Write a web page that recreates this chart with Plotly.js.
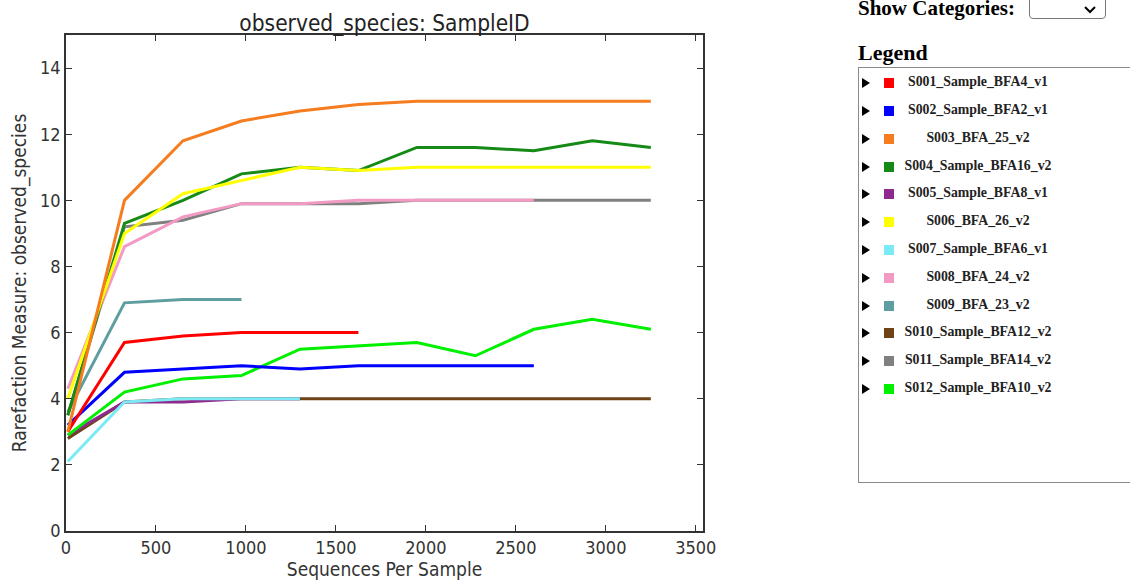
<!DOCTYPE html>
<html>
<head>
<meta charset="utf-8">
<script src="https://cdn.plot.ly/plotly-3.0.1.min.js"></script>
<style>
  html, body { margin: 0; padding: 0; background: #fff; width: 1130px; height: 581px; overflow: hidden; }
  #plot { position: absolute; left: 0; top: 0; width: 720px; height: 581px; }
  .hdr { position: absolute; font-family: "Liberation Serif", "Times New Roman", serif; font-weight: bold; color: #000; white-space: nowrap; }
  #showcat { left: 858px; top: 0px; font-size: 21px; line-height: 16px; }
  #sel { position: absolute; left: 1029px; top: -5px; width: 77px; height: 24px; border: 1px solid #767676; border-radius: 4px; background: #fff; box-sizing: border-box; }
  #sel svg { position: absolute; right: 9px; top: 10px; }
  #leghdr { left: 858px; top: 40px; font-size: 22px; }
  #legbox { position: absolute; left: 858px; top: 67px; width: 290px; height: 416px; border: 1px solid #8a8a8a; box-sizing: border-box; }
  .row { position: absolute; left: 0; height: 14px; }
  .tri { position: absolute; left: 3px; top: 2px; width: 0; height: 0; border-left: 8px solid #000; border-top: 5px solid transparent; border-bottom: 5px solid transparent; }
  .sq { position: absolute; left: 25px; top: 2px; width: 10px; height: 10px; }
  .lab { position: absolute; left: 38px; top: -2px; width: 162px; text-align: center; font-family: "Liberation Serif", "Times New Roman", serif; font-weight: bold; font-size: 13.8px; color: #222; white-space: nowrap; }
</style>
</head>
<body>
<div id="plot"></div>
<div class="hdr" id="showcat">Show Categories:</div>
<div id="sel"><svg width="12" height="8" viewBox="0 0 12 8"><path d="M1 1 L6 6 L11 1" stroke="#000" stroke-width="2" fill="none"/></svg></div>
<div class="hdr" id="leghdr">Legend</div>
<div id="legbox"></div>
<script>
// ---- data ----
const depths = [10, 325, 650, 975, 1300, 1625, 1950, 2275, 2600, 2925, 3250];

const sampleNames = [
  "S001_Sample_BFA4_v1", "S002_Sample_BFA2_v1", "S003_BFA_25_v2", "S004_Sample_BFA16_v2",
  "S005_Sample_BFA8_v1", "S006_BFA_26_v2", "S007_Sample_BFA6_v1", "S008_BFA_24_v2",
  "S009_BFA_23_v2", "S010_Sample_BFA12_v2", "S011_Sample_BFA14_v2", "S012_Sample_BFA10_v2"
];
const sampleColors = [
  "#ff0000", "#0000ff", "#f57d1f", "#168a16",
  "#8e2a8e", "#ffff00", "#7ceaf5", "#f29ac4",
  "#5f9ea0", "#6e4316", "#808080", "#00f000"
];

const S001 = [3.0, 5.7, 5.9, 6.0, 6.0, 6.0];
const S002 = [3.2, 4.8, 4.9, 5.0, 4.9, 5.0, 5.0, 5.0, 5.0];
const S003 = [3.0, 10.0, 11.8, 12.4, 12.7, 12.9, 13.0, 13.0, 13.0, 13.0, 13.0];
const S004 = [3.5, 9.3, 10.0, 10.8, 11.0, 10.9, 11.6, 11.6, 11.5, 11.8, 11.6];
const S005 = [2.9, 3.9, 3.9, 4.0, 4.0];
const S006 = [4.0, 9.0, 10.2, 10.6, 11.0, 10.9, 11.0, 11.0, 11.0, 11.0, 11.0];
const S007 = [2.1, 3.9, 4.0, 4.0, 4.0];
const S008 = [4.3, 8.6, 9.5, 9.9, 9.9, 10.0, 10.0, 10.0, 10.0];
const S009 = [3.6, 6.9, 7.0, 7.0];
const S010 = [2.8, 3.9, 4.0, 4.0, 4.0, 4.0, 4.0, 4.0, 4.0, 4.0, 4.0];
const S011 = [3.5, 9.2, 9.4, 9.9, 9.9, 9.9, 10.0, 10.0, 10.0, 10.0, 10.0];
const S012 = [2.9, 4.2, 4.6, 4.7, 5.5, 5.6, 5.7, 5.3, 6.1, 6.4, 6.1];

const seriesValues = [S001, S002, S003, S004, S005, S006, S007, S008, S009, S010, S011, S012];
// drawing order (later = on top)
const drawOrder = [9, 4, 6, 11, 1, 0, 8, 10, 7, 3, 5, 2];

const traces = drawOrder.map(i => ({
  type: "scatter",
  mode: "lines",
  name: sampleNames[i],
  x: depths.slice(0, seriesValues[i].length),
  y: seriesValues[i],
  line: { color: sampleColors[i], width: 3 },
  hoverinfo: "x+y+name"
}));

const fam = "DejaVu Sans Condensed, DejaVu Sans, sans-serif";
const tickFont = { family: fam, size: 18, color: "#333" };
const layout = {
  width: 720, height: 581,
  margin: { l: 66, r: 17, t: 35, b: 50 },
  paper_bgcolor: "#fff", plot_bgcolor: "#fff",
  showlegend: false,
  title: { text: "observed_species: SampleID", font: { family: fam, size: 22.5, color: "#222" },
           x: 0.5, xref: "paper", y: 1, yref: "paper", yanchor: "bottom", pad: { b: 4 } },
  xaxis: {
    range: [0, 3540], tickvals: [0, 500, 1000, 1500, 2000, 2500, 3000, 3500],
    ticks: "inside", ticklen: 6, tickwidth: 1, tickcolor: "#333",
    showline: true, linecolor: "#333", linewidth: 1.5, mirror: "ticks",
    showgrid: false, zeroline: false, tickfont: tickFont,
    title: { text: "Sequences Per Sample", font: { family: fam, size: 19, color: "#333" }, standoff: 4 }
  },
  yaxis: {
    range: [0, 15], tickvals: [0, 2, 4, 6, 8, 10, 12, 14],
    ticks: "inside", ticklen: 6, tickwidth: 1, tickcolor: "#333",
    showline: true, linecolor: "#333", linewidth: 1.5, mirror: "ticks",
    showgrid: false, zeroline: false, tickfont: tickFont,
    title: { text: "Rarefaction Measure: observed_species", font: { family: fam, size: 19, color: "#333" }, standoff: 8 }
  }
};

Plotly.newPlot("plot", traces, layout, { displayModeBar: false });

// ---- HTML legend built from the same arrays ----
const box = document.getElementById("legbox");
const rowTops = [8, 36, 64, 92, 119, 147, 175, 203, 231, 258, 286, 314];
sampleNames.forEach((nm, i) => {
  const r = document.createElement("div");
  r.className = "row";
  r.style.top = rowTops[i] + "px";
  r.innerHTML = '<div class="tri"></div><div class="sq" style="background:' + sampleColors[i] + '"></div><div class="lab">' + nm + '</div>';
  box.appendChild(r);
});
</script>
</body>
</html>
